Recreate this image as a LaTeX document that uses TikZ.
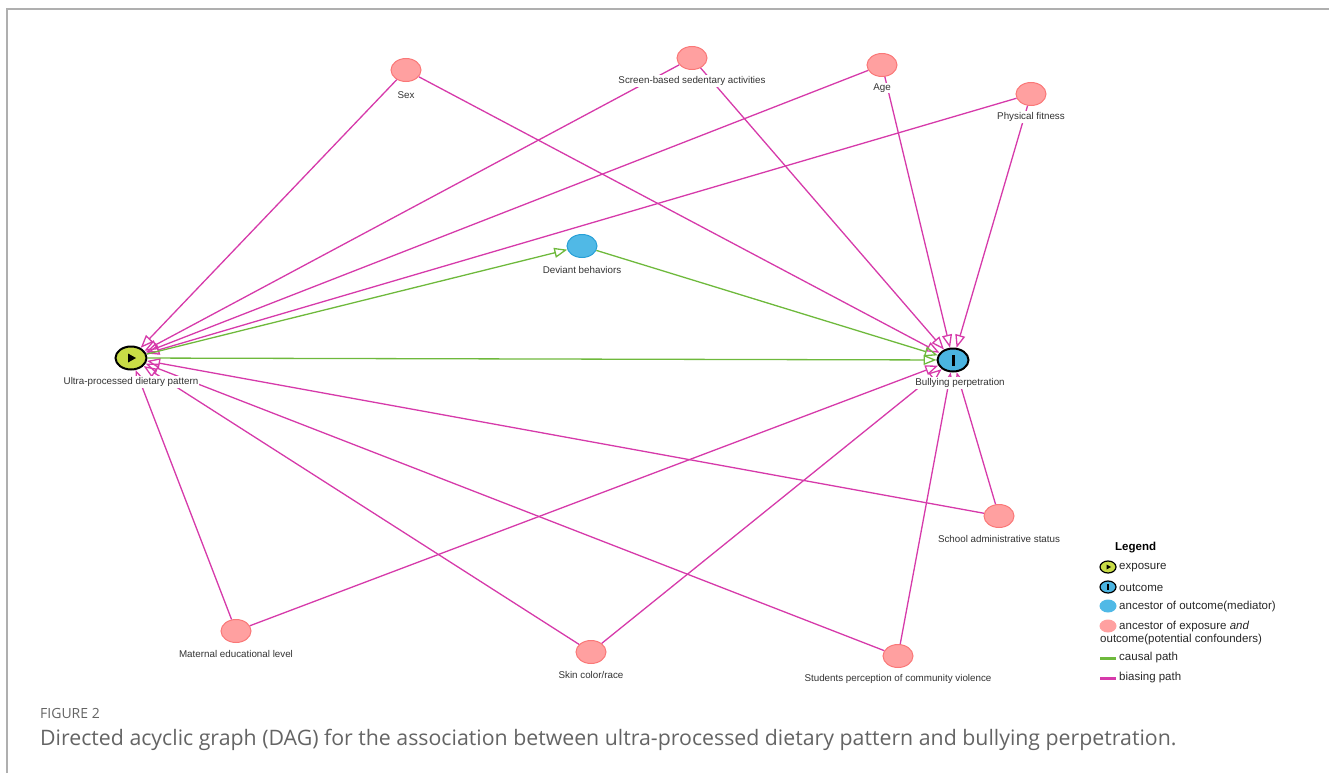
\documentclass[tikz,border=0pt]{standalone}
\usepackage{fontspec}
\setmainfont{Liberation Sans}
\newfontfamily\capfont{Open Sans}
\usetikzlibrary{arrows.meta,shapes.geometric}

\definecolor{biascol}{RGB}{214,58,170}
\definecolor{causalcol}{RGB}{110,185,60}
\definecolor{confcol}{RGB}{255,160,160}
\definecolor{confline}{RGB}{250,120,120}
\definecolor{medcol}{RGB}{80,185,230}
\definecolor{medline}{RGB}{40,160,215}
\definecolor{expcol}{RGB}{200,220,70}
\definecolor{outcol}{RGB}{75,180,225}
\definecolor{framecol}{RGB}{175,175,175}
\definecolor{capcol}{RGB}{100,100,100}

\tikzset{
  conf/.style={ellipse, draw=confline, fill=confcol, line width=1pt,
    minimum width=30pt, minimum height=23pt, inner sep=0pt},
  med/.style={conf, draw=medline, fill=medcol},
  expo/.style={conf, draw=black, fill=expcol, line width=2pt, minimum width=31pt},
  outc/.style={conf, draw=black, fill=outcol, line width=2pt, minimum width=31pt},
  lbl/.style={font=\fontsize{9.8}{11}\selectfont, text=black!80, fill=white, inner sep=1pt},
  legtext/.style={font=\fontsize{11.5}{13}\selectfont, text=black!85, anchor=west, inner sep=0pt},
  bias/.style={draw=biascol, line width=1.3pt, -{Triangle[open,length=13pt,width=10pt]}},
  causal/.style={bias, draw=causalcol}
}

\begin{document}
\begin{tikzpicture}[x=1pt,y=-1pt]
\useasboundingbox (0,0) rectangle (1329,773);
\draw[framecol, line width=2pt] (7,773) -- (7,9) -- (1329,9);

% exposure and outcome
\node[expo, anchor=center] (1) at (131,358) {};
\fill (1.center) ++(-3,-4.5) -- ++(8,4.5) -- ++(-8,4.5) -- cycle;

\node[outc, anchor=center] (2) at (953,360) {};
\fill (2.center) ++(-1.5,-5.5) rectangle ++(3,11);

% mediator
\node[med, anchor=center] (3) at (582,246) {};

% confounders
\node[conf, anchor=center] (4) at (406,70) {};
\node[conf, anchor=center] (5) at (692,58) {};
\node[conf, anchor=center] (6) at (882,65) {};
\node[conf, anchor=center] (7) at (1031,94) {};
\node[conf, anchor=center] (8) at (999,516) {};
\node[conf, anchor=center] (9) at (236,631) {};
\node[conf, anchor=center] (10) at (591,652) {};
\node[conf, anchor=center] (11) at (898,656) {};

% biasing paths
\draw[bias] (4) -- (1);
\draw[bias] (4) -- (2);

\draw[bias] (5) -- (1);
\draw[bias] (5) -- (2);

\draw[bias] (6) -- (1);
\draw[bias] (6) -- (2);

\draw[bias] (7) -- (1);
\draw[bias] (7) -- (2);

\draw[bias] (8) -- (1);
\draw[bias] (8) -- (2);

\draw[bias] (9) -- (1);
\draw[bias] (9) -- (2);

\draw[bias] (10) -- (1);
\draw[bias] (10) -- (2);

\draw[bias] (11) -- (1);
\draw[bias] (11) -- (2);

% causal paths
\draw[causal] (1) -- (3);
\draw[causal] (3) -- (2);
\draw[causal] (1) -- (2);

% labels, on top of the paths
\node[lbl, anchor=center] (1t) at (131,382) {Ultra-processed dietary pattern};
\node[lbl, anchor=center] (2t) at (960,383) {Bullying perpetration};
\node[lbl, anchor=center] (3t) at (582,270) {Deviant behaviors};
\node[lbl, anchor=center] (4t) at (406,95) {Sex};
\node[lbl, anchor=center] (5t) at (692,81) {Screen-based sedentary activities};
\node[lbl, anchor=center] (6t) at (882,88) {Age};
\node[lbl, anchor=center] (7t) at (1031,117) {Physical fitness};
\node[lbl, anchor=center] (8t) at (999,539) {School administrative status};
\node[lbl, anchor=center] (9t) at (236,654) {Maternal educational level};
\node[lbl, anchor=center] (10t) at (591,675) {Skin color/race};
\node[lbl, anchor=center] (11t) at (898,679) {Students perception of community violence};

% legend
\node[font=\bfseries\fontsize{11.5}{13}\selectfont, anchor=west, inner sep=0pt] (12) at (1115,548) {Legend};

\node[expo, line width=1.2pt, minimum width=16pt, minimum height=12pt, anchor=center] (13) at (1108,567) {};
\fill (13.center) ++(-1.5,-2.5) -- ++(4.5,2.5) -- ++(-4.5,2.5) -- cycle;
\node[legtext] (13t) at (1119,568) {exposure};

\node[outc, line width=1.2pt, minimum width=16pt, minimum height=12pt, anchor=center] (14) at (1108,587) {};
\fill (14.center) ++(-0.8,-3) rectangle ++(1.6,6);
\node[legtext] (14t) at (1119,588) {outcome};

\node[med, draw=none, minimum width=17pt, minimum height=13pt, anchor=center] (15) at (1108,606) {};
\node[legtext] (15t) at (1119,607) {ancestor of outcome(mediator)};

\node[conf, draw=none, minimum width=17pt, minimum height=13pt, anchor=center] (16) at (1108,626) {};
\node[legtext] (16t) at (1119,627) {ancestor of exposure \emph{and}};
\node[legtext] (16u) at (1100,640) {outcome(potential confounders)};

\coordinate (17a) at (1100,658);
\coordinate (17b) at (1116,658);
\draw[causalcol, line width=3pt] (17a) -- (17b);
\node[legtext] (17t) at (1119,658) {causal path};

\coordinate (18a) at (1100,678);
\coordinate (18b) at (1116,678);
\draw[biascol, line width=3pt] (18a) -- (18b);
\node[legtext] (18t) at (1119,678) {biasing path};

% caption
\node[font=\capfont\fontsize{14}{16}\selectfont, text=capcol, anchor=west, inner sep=0pt] (19) at (40,713) {FIGURE 2};
\node[font=\capfont\fontsize{21.3}{24}\selectfont, text=capcol, anchor=west, inner sep=0pt] (20) at (40,740)
{Directed acyclic graph (DAG) for the association between ultra-processed dietary pattern and bullying perpetration.};
\end{tikzpicture}
\end{document}
